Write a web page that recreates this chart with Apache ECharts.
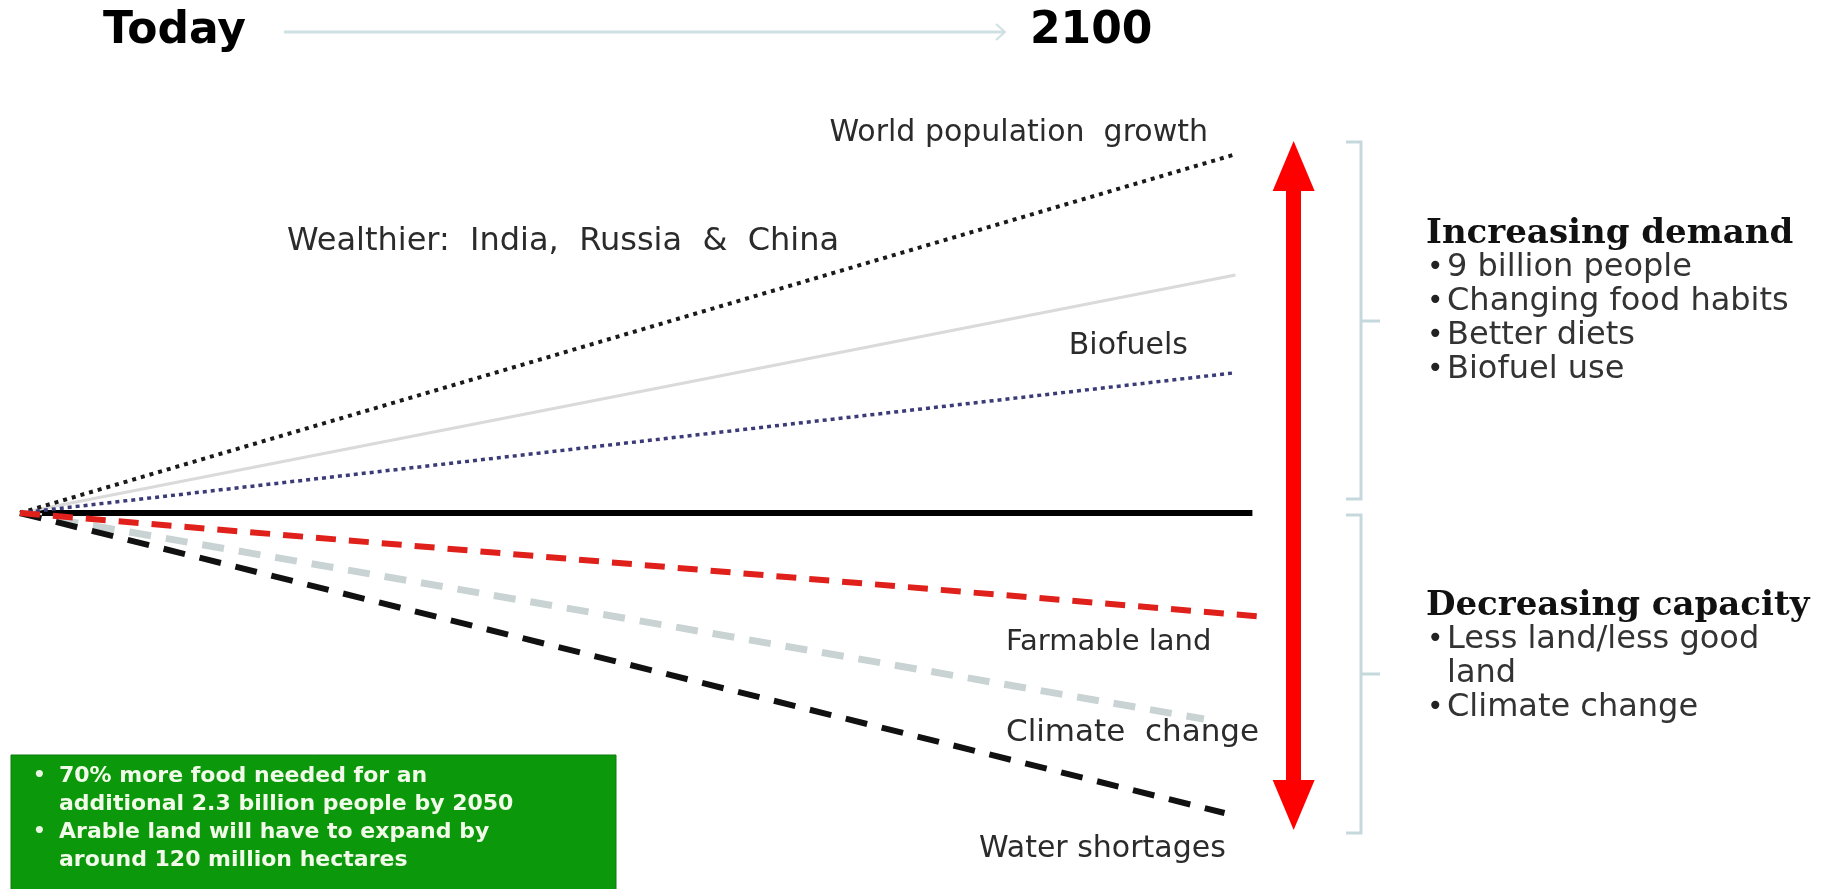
<!DOCTYPE html>
<html>
<head>
<meta charset="utf-8">
<title>Today to 2100</title>
<script src="https://cdn.jsdelivr.net/npm/echarts@6/dist/echarts.min.js"></script>
<style>
  html, body { margin: 0; padding: 0; background: #fff; }
  #main { width: 1839px; height: 889px; }
</style>
</head>
<body>
<div id="main"></div>
<script>
// trends: all start "today" at (0, 0) and fan out towards 2100 (x = 100)
var trendNames = ['World population growth', 'Wealthier', 'Biofuels', 'Baseline', 'Farmable land', 'Climate change', 'Water shortages'];
var trendEndX = [100, 100.2, 100, 101.6, 102.7, 97.6, 99.3];
var trendEndY = [358, 238, 140, 0, -104, -206, -300];

var demandItems = ['9 billion people', 'Changing food habits', 'Better diets', 'Biofuel use'];
var capacityItems = ['Less land/less good', 'land', 'Climate change'];
var boxItems = ['70% more food needed for an', 'additional 2.3 billion people by 2050', 'Arable land will have to expand by', 'around 120 million hectares'];

var chartDom = document.getElementById('main');
var myChart = echarts.init(chartDom);
var option;

var FONT = '"DejaVu Sans", Verdana, sans-serif';

// line look per trend
var trendStyles = [
    { color: '#1a1a1a', width: 4, type: [4, 5] },
    { color: '#dadada', width: 3, type: 'solid' },
    { color: '#3b3b78', width: 3.5, type: [4, 4] },
    { color: '#000000', width: 6, type: 'solid' },
    { color: '#e0201b', width: 6, type: [20, 13] },
    { color: '#c9d3d3', width: 7, type: [22, 15] },
    { color: '#111111', width: 6, type: [22, 15] }
];
var drawOrder = [3, 1, 0, 2, 5, 6, 4];

var maxEnd = Math.max.apply(null, trendEndY);
var minEnd = Math.min.apply(null, trendEndY);

var series = drawOrder.map(function (i) {
    return {
        name: trendNames[i],
        type: 'line',
        symbol: 'none',
        silent: true,
        z: 2 + drawOrder.indexOf(i),
        lineStyle: {
            color: trendStyles[i].color,
            width: trendStyles[i].width,
            type: trendStyles[i].type,
            cap: 'butt'
        },
        data: [[0, 0], [trendEndX[i], trendEndY[i]]]
    };
});

// red double arrow spanning the whole fan
var headSize = [42, 50];
series.push({
    name: 'range',
    type: 'line',
    symbol: 'none',
    silent: true,
    z: 20,
    lineStyle: { opacity: 0 },
    data: [[105, 0]],
    markLine: {
        silent: true,
        animation: false,
        symbol: ['triangle', 'triangle'],
        label: { show: false },
        lineStyle: { color: '#ff0000', width: 15, type: 'solid', opacity: 1 },
        data: [[
            { coord: [105, maxEnd - 11], symbolSize: headSize },
            { coord: [105, minEnd + 8], symbolSize: headSize }
        ]]
    }
});

function txt(text, x, y, font, fill, align) {
    return {
        type: 'text',
        x: x,
        y: y,
        silent: true,
        style: {
            text: text,
            font: font,
            fill: fill || '#2b2b2b',
            align: align || 'left',
            verticalAlign: 'middle'
        }
    };
}

var graphics = [];
// header
graphics.push(txt('Today', 103, 32, 'bold 44px ' + FONT, '#000'));
graphics.push(txt('2100', 1030, 32, 'bold 44px ' + FONT, '#000'));
graphics.push({
    type: 'polyline', silent: true,
    shape: { points: [[284, 32], [1004, 32]] },
    style: { stroke: '#cfe0e4', lineWidth: 3, fill: null }
});
graphics.push({
    type: 'polyline', silent: true,
    shape: { points: [[996, 24], [1005, 32], [996, 40]] },
    style: { stroke: '#cfe0e4', lineWidth: 2, fill: null }
});

// labels along the fan
graphics.push(txt('World population  growth', 1208, 133, '30px ' + FONT, null, 'right'));
graphics.push(txt('Wealthier:  India,  Russia  &  China', 287, 242, '32px ' + FONT));
graphics.push(txt('Biofuels', 1188, 346, '30px ' + FONT, null, 'right'));
graphics.push(txt('Farmable land', 1006, 642, '29px ' + FONT));
graphics.push(txt('Climate  change', 1006, 733, '31px ' + FONT));
graphics.push(txt('Water shortages', 979, 849, '30px ' + FONT));

// brackets
var bracketStyle = { stroke: '#c5d9dd', lineWidth: 3, fill: null };
[[142, 321, 499], [515, 674, 833]].forEach(function (b) {
    graphics.push({
        type: 'polyline', silent: true,
        shape: { points: [[1346, b[0]], [1361, b[0]], [1361, b[2]], [1346, b[2]]] },
        style: bracketStyle
    });
    graphics.push({
        type: 'polyline', silent: true,
        shape: { points: [[1361, b[1]], [1380, b[1]]] },
        style: bracketStyle
    });
});

// right hand notes
var headFont = 'bold 34px "DejaVu Serif", serif';
var itemFont = '32px ' + FONT;
var dotFont = '28px ' + FONT;
graphics.push(txt('Increasing demand', 1426, 234, headFont, '#111'));
demandItems.forEach(function (s, k) {
    graphics.push(txt('\u2022', 1427, 268 + k * 34, dotFont, '#222'));
    graphics.push(txt(s, 1447, 268 + k * 34, itemFont, '#333'));
});
graphics.push(txt('Decreasing capacity', 1426, 606, headFont, '#111'));
capacityItems.forEach(function (s, k) {
    if (k !== 1) {
        graphics.push(txt('\u2022', 1427, 640 + k * 34, dotFont, '#222'));
    }
    graphics.push(txt(s, 1447, 640 + k * 34, itemFont, '#333'));
});

// green box
graphics.push({
    type: 'rect', silent: true,
    shape: { x: 11, y: 755, width: 605, height: 140 },
    style: { fill: '#0b990b', stroke: '#0a7a0a', lineWidth: 1 }
});
var boxFont = 'bold 22px ' + FONT;
boxItems.forEach(function (s, k) {
    if (k === 0 || k === 2) {
        graphics.push(txt('\u2022', 33, 776 + k * 28, 'bold 20px ' + FONT, '#e8f5e0'));
    }
    graphics.push(txt(s, 59, 776 + k * 28, boxFont, '#f2fbe9'));
});

option = {
    backgroundColor: '#ffffff',
    animation: false,
    // 2100 (x = 100) lands at 1233px; room to x = 110 for the arrow
    grid: { left: 20, width: 1334.3, top: 0, bottom: 0 },
    xAxis: { type: 'value', min: 0, max: 110, show: false },
    yAxis: { type: 'value', min: -376, max: 513, show: false },
    series: series,
    graphic: graphics
};

option && myChart.setOption(option);

window.addEventListener('resize', function () {
    myChart.resize();
});
</script>
</body>
</html>
